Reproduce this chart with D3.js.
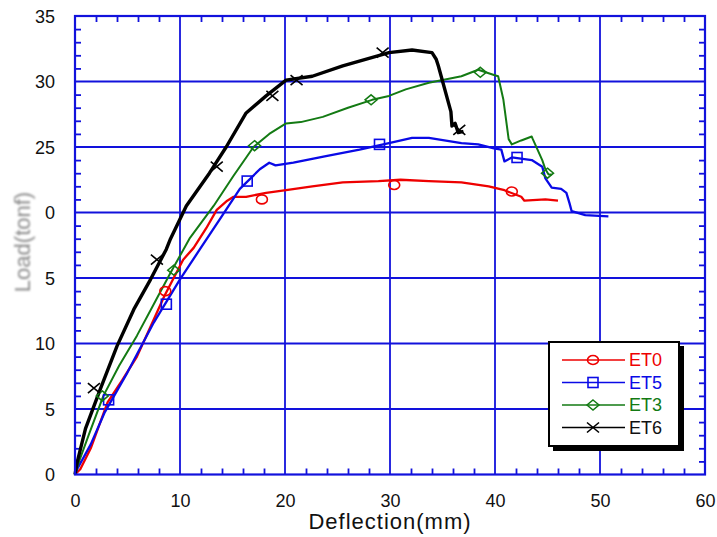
<!DOCTYPE html>
<html>
<head>
<meta charset="utf-8">
<script src="https://cdn.jsdelivr.net/npm/d3@7"></script>
<style>
  html, body { margin: 0; padding: 0; background: #fff; }
  svg { display: block; font-family: "Liberation Sans", Arial, sans-serif; }
</style>
</head>
<body>
<svg id="chart" width="717" height="537"></svg>
<script>
// Load–deflection test records
const et0X = [0, 0.5, 1.5, 3.1, 4.5, 5.9, 7.2, 8.5, 10.3, 11.3, 12.5, 13.5, 14.5, 15.1, 16.3, 18.2, 20.1, 22.6, 25.5, 28.9, 31.0, 33.7, 36.8, 39.4, 40.9, 42.5, 42.8, 44.8, 46.0];
const et0Y = [0, 0.4, 2.0, 5.5, 7.2, 9.0, 11.3, 13.6, 16.4, 17.3, 18.8, 20.2, 20.9, 21.2, 21.2, 21.5, 21.7, 22.0, 22.3, 22.4, 22.5, 22.4, 22.3, 22.0, 21.7, 21.2, 20.9, 21.0, 20.9];

const et5X = [0, 0.2, 1.5, 2.8, 5.0, 7.5, 10.0, 11.9, 13.8, 15.7, 17.6, 18.5, 19.1, 20.8, 23.9, 27.1, 29.9, 32.1, 33.7, 36.8, 38.4, 39.9, 40.6, 40.9, 41.6, 43.5, 44.5, 44.8, 45.4, 46.3, 46.8, 47.1, 47.3, 48.6, 50.8];
const et5Y = [0, 0.4, 2.3, 4.7, 7.8, 11.6, 14.9, 17.2, 19.5, 21.8, 23.3, 23.8, 23.6, 23.8, 24.3, 24.8, 25.3, 25.7, 25.7, 25.3, 25.2, 24.9, 24.8, 23.9, 24.2, 24.0, 23.5, 22.6, 21.9, 21.8, 21.5, 20.7, 20.1, 19.8, 19.7];

const et3X = [0, 0.3, 1.3, 2.7, 4.2, 5.9, 7.5, 9.1, 10.9, 13.2, 15.1, 17.0, 18.5, 20.1, 21.5, 23.6, 26.0, 28.3, 29.9, 31.5, 33.7, 36.8, 38.4, 39.9, 40.3, 40.8, 41.3, 41.6, 42.5, 43.5, 43.6, 44.5, 44.8, 45.1, 45.4];
const et3Y = [0, 0.8, 3.0, 6.0, 8.3, 10.6, 13.0, 15.4, 18.0, 20.5, 22.8, 25.0, 26.0, 26.8, 26.9, 27.3, 28.0, 28.6, 28.9, 29.4, 29.9, 30.4, 30.9, 30.5, 30.4, 28.6, 25.6, 25.2, 25.5, 25.8, 25.6, 24.0, 23.3, 22.9, 22.9];

const et6X = [0, 0.2, 1.0, 2.4, 4.0, 5.6, 7.2, 8.7, 9.1, 10.6, 12.8, 14.4, 16.3, 18.2, 20.1, 22.6, 25.5, 29.0, 29.9, 32.1, 34.0, 34.4, 34.6, 35.8, 35.9, 36.2, 36.5, 37.0];
const et6Y = [0, 0.9, 3.5, 6.5, 9.8, 12.6, 14.9, 17.2, 18.0, 20.5, 23.0, 25.0, 27.6, 28.9, 30.1, 30.4, 31.2, 32.0, 32.2, 32.4, 32.2, 31.7, 31.2, 27.7, 26.6, 26.8, 26.1, 26.2];

// Marker positions along each record
const et0MarkX = [8.6, 17.8, 30.4, 41.6];
const et0MarkY = [14.0, 21.0, 22.1, 21.6];
const et5MarkX = [3.2, 8.7, 16.4, 29.0, 42.1];
const et5MarkY = [5.7, 13.0, 22.4, 25.2, 24.2];
const et3MarkX = [2.6, 9.4, 17.1, 28.2, 38.6, 45.0];
const et3MarkY = [6.0, 15.6, 25.1, 28.6, 30.7, 23.0];
const et6MarkX = [1.8, 7.8, 13.5, 18.8, 21.1, 29.3, 36.6];
const et6MarkY = [6.6, 16.4, 23.5, 28.9, 30.1, 32.2, 26.3];

const seriesNames = ["ET0", "ET5", "ET3", "ET6"];
const xTickValues = [0, 10, 20, 30, 40, 50, 60];
const xTickLabels = ["0", "10", "20", "30", "40", "50", "60"];
const yTickValues = [0, 5, 10, 15, 20, 25, 30, 35];
const yTickLabels = ["0", "5", "10", "5", "0", "25", "30", "35"];

const series = [
  { name: seriesNames[0], xs: et0X, ys: et0Y, mx: et0MarkX, my: et0MarkY, color: "#ee0000", marker: "circle", width: 2.3 },
  { name: seriesNames[1], xs: et5X, ys: et5Y, mx: et5MarkX, my: et5MarkY, color: "#0a0ae6", marker: "square", width: 2.3 },
  { name: seriesNames[2], xs: et3X, ys: et3Y, mx: et3MarkX, my: et3MarkY, color: "#137a13", marker: "diamond", width: 2 },
  { name: seriesNames[3], xs: et6X, ys: et6Y, mx: et6MarkX, my: et6MarkY, color: "#000000", marker: "cross", width: 3.4 }
];

const svg = d3.select("#chart");
const plotLeft = 75, plotRight = 705, plotTop = 16, plotBottom = 474.5;
const axisBlue = "#1212dc";

const x = d3.scaleLinear().domain([0, 60]).range([plotLeft, plotRight]);
const y = d3.scaleLinear().domain([0, 35]).range([plotBottom, plotTop]);

// Blur for the soft y-axis title
const defs = svg.append("defs");
defs.append("filter").attr("id", "soft")
  .attr("x", "-20%").attr("y", "-20%").attr("width", "140%").attr("height", "140%")
  .append("feGaussianBlur").attr("stdDeviation", 0.9);

// Grid lines at major ticks
const grid = svg.append("g");
grid.selectAll(".gx").data(xTickValues.slice(1, -1)).join("line")
  .attr("x1", d => x(d)).attr("x2", d => x(d))
  .attr("y1", plotTop).attr("y2", plotBottom)
  .attr("stroke", axisBlue).attr("stroke-width", 1.8);
grid.selectAll(".gy").data(yTickValues.slice(1, -1)).join("line")
  .attr("x1", plotLeft).attr("x2", plotRight)
  .attr("y1", d => y(d)).attr("y2", d => y(d))
  .attr("stroke", axisBlue).attr("stroke-width", 1.8);

// Inward minor ticks on all four sides
const xMinor = d3.range(2, 60, 2).filter(v => v % 10 !== 0);
const yMinor = d3.range(1, 35, 1).filter(v => v % 5 !== 0);
const tickLen = 6;
function tickAxis(axisGen, translate, vals) {
  const g = svg.append("g").attr("transform", translate)
    .call(axisGen.tickValues(vals).tickSize(tickLen).tickFormat(""));
  g.select(".domain").remove();
  g.selectAll(".tick line").attr("stroke", axisBlue).attr("stroke-width", 1.8);
}
tickAxis(d3.axisTop(x), `translate(0,${plotBottom})`, xMinor);
tickAxis(d3.axisBottom(x), `translate(0,${plotTop})`, xMinor);
tickAxis(d3.axisRight(y), `translate(${plotLeft},0)`, yMinor);
tickAxis(d3.axisLeft(y), `translate(${plotRight},0)`, yMinor);

// Tick labels
const xLab = svg.append("g").attr("transform", `translate(0,${plotBottom})`)
  .call(d3.axisBottom(x).tickValues(xTickValues).tickSize(0).tickPadding(0)
    .tickFormat((d, i) => xTickLabels[i]));
xLab.select(".domain").remove();
xLab.selectAll("text").attr("y", 32).attr("dy", 0)
  .attr("font-size", 18).attr("fill", "#111").attr("font-family", "Liberation Sans, Arial, sans-serif");

const yLab = svg.append("g").attr("transform", `translate(${plotLeft},0)`)
  .call(d3.axisLeft(y).tickValues(yTickValues).tickSize(0).tickPadding(0)
    .tickFormat((d, i) => yTickLabels[i]));
yLab.select(".domain").remove();
yLab.selectAll("text").attr("x", -20).attr("dy", "0.35em")
  .attr("font-size", 18).attr("fill", "#111").attr("font-family", "Liberation Sans, Arial, sans-serif");

// Axis titles
svg.append("text")
  .attr("x", (plotLeft + plotRight) / 2).attr("y", 529)
  .attr("text-anchor", "middle").attr("font-size", 22)
  .attr("letter-spacing", 1).attr("fill", "#111")
  .text("Deflection(mm)");

svg.append("text")
  .attr("transform", "translate(30,242) rotate(-90)")
  .attr("text-anchor", "middle").attr("font-size", 22)
  .attr("fill", "#8a8a8a").attr("filter", "url(#soft)")
  .text("Load(tonf)");

// Curves
const line = d3.line().x(d => x(d[0])).y(d => y(d[1]));
const plot = svg.append("g");
series.forEach(s => {
  const pts = s.xs.map((v, i) => [v, s.ys[i]]);
  plot.append("path").datum(pts)
    .attr("d", line).attr("fill", "none")
    .attr("stroke", s.color).attr("stroke-width", s.width)
    .attr("stroke-linejoin", "round");
});

// Marker glyphs
function drawMarker(g, kind, cx, cy, color) {
  if (kind === "circle") {
    g.append("ellipse").attr("cx", cx).attr("cy", cy).attr("rx", 5.5).attr("ry", 4.5)
      .attr("fill", "none").attr("stroke", color).attr("stroke-width", 1.6);
  } else if (kind === "square") {
    g.append("rect").attr("x", cx - 5).attr("y", cy - 5).attr("width", 10).attr("height", 10)
      .attr("fill", "none").attr("stroke", color).attr("stroke-width", 1.6);
  } else if (kind === "diamond") {
    g.append("path").attr("d", `M${cx},${cy - 5}L${cx + 6},${cy}L${cx},${cy + 5}L${cx - 6},${cy}Z`)
      .attr("fill", "none").attr("stroke", color).attr("stroke-width", 1.5);
  } else {
    g.append("path").attr("d", `M${cx - 6},${cy - 5}L${cx + 6},${cy + 5}M${cx - 6},${cy + 5}L${cx + 6},${cy - 5}`)
      .attr("fill", "none").attr("stroke", color).attr("stroke-width", 1.6);
  }
}
series.forEach(s => {
  const g = plot.append("g");
  s.mx.forEach((v, i) => drawMarker(g, s.marker, x(v), y(s.my[i]), s.color));
});

// Plot frame
svg.append("rect")
  .attr("x", plotLeft).attr("y", plotTop).attr("width", plotRight - plotLeft).attr("height", plotBottom - plotTop)
  .attr("fill", "none").attr("stroke", axisBlue).attr("stroke-width", 2.2);

// Legend with drop shadow
const lg = svg.append("g");
lg.append("rect").attr("x", 553).attr("y", 346).attr("width", 131).attr("height", 105).attr("fill", "#000");
lg.append("rect").attr("x", 549).attr("y", 342).attr("width", 130).attr("height", 104)
  .attr("fill", "#fff").attr("stroke", "#000").attr("stroke-width", 2);
const legendRowY = d3.scalePoint().domain(seriesNames).range([360, 427.5]);
series.forEach(s => {
  const ly = legendRowY(s.name);
  lg.append("line").attr("x1", 562).attr("x2", 625).attr("y1", ly).attr("y2", ly)
    .attr("stroke", s.color).attr("stroke-width", 1.4);
  drawMarker(lg, s.marker, 593, ly, s.color);
  lg.append("text").attr("x", 629).attr("y", ly).attr("dy", "0.36em")
    .attr("font-size", 18).attr("fill", s.color === "#000000" ? "#111" : s.color)
    .text(s.name);
});
</script>
</body>
</html>
